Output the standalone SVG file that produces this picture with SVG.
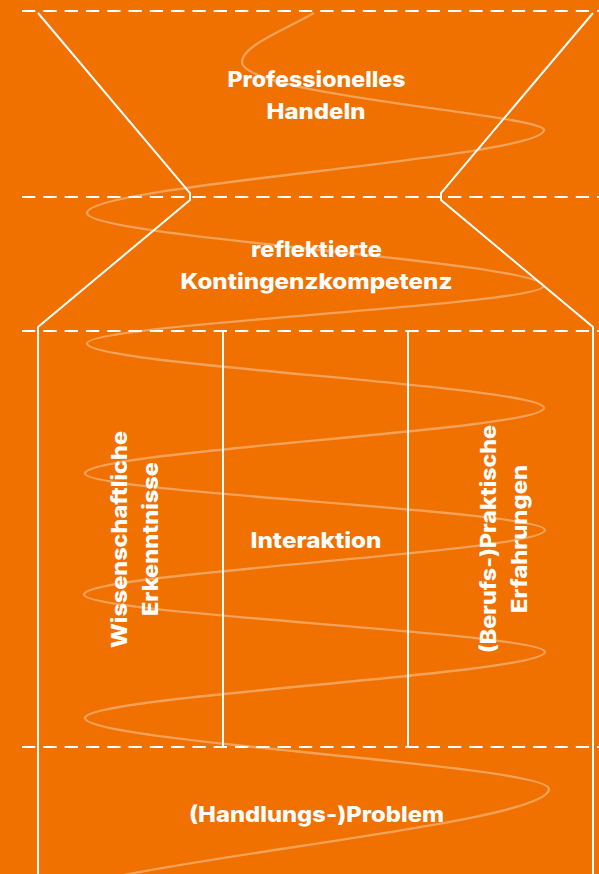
<svg xmlns="http://www.w3.org/2000/svg" width="599" height="874" viewBox="0 0 599 874">
<style>
.lbl{font-family:"Inter","Liberation Sans",sans-serif;font-weight:800;font-size:21.5px;fill:#ffffff;text-anchor:middle}
.dash{stroke:#ffffff;stroke-width:2;stroke-dasharray:13.3 8;fill:none}
.solid{stroke:#ffffff;stroke-width:2;fill:none;stroke-linejoin:miter}
.wave{stroke:#ffffff;stroke-opacity:0.35;stroke-width:2.4;fill:none}
</style>
<rect x="0" y="0" width="599" height="874" fill="#f07000"/>
<g id="wave">
<path class="wave" d="M314,13 C282,31 242,46 242,62 C242,95 544,115 544,130 C544,158 87,185 87,213 C87,237 543.5,262 543.5,286 C543.5,305 87,324 87,343.5 C87,365 544,386 544,408 C544,430 85,451 85,473.5 C85,492 545,511 545,530 C545,552 84,573 84,594.5 C84,614 545,633 545,652 C545,674 85,696 85,718 C85,742 549,765 549,789 C549,828 40,866 40,905"/>
</g>
<g id="connectors">
<g id="dashed-lines">
<line class="dash" x1="22" y1="11" x2="599" y2="11"/>
<line class="dash" x1="22" y1="197" x2="599" y2="197"/>
<line class="dash" x1="22" y1="331" x2="599" y2="331"/>
<line class="dash" x1="22" y1="747" x2="599" y2="747"/>
</g>
<polyline class="solid" points="38,13 190,193 190,200 38,327 38,874"/>
<polyline class="solid" points="593,13 441,193 441,200 593,327 593,874"/>
<line class="solid" x1="223" y1="331" x2="223" y2="747"/>
<line class="solid" x1="408" y1="331" x2="408" y2="747"/>
</g>
<g id="professionelles-handeln">
<text class="lbl" x="316.5" y="87" textLength="178" lengthAdjust="spacingAndGlyphs">Professionelles</text>
<text class="lbl" x="316" y="119" textLength="99" lengthAdjust="spacingAndGlyphs">Handeln</text>
</g>
<g id="kontingenzkompetenz">
<text class="lbl" x="316.5" y="257" textLength="131" lengthAdjust="spacingAndGlyphs">reflektierte</text>
<text class="lbl" x="316.5" y="289" textLength="272" lengthAdjust="spacingAndGlyphs">Kontingenzkompetenz</text>
</g>
<g id="wissenschaftliche-erkenntnisse">
<text class="lbl" transform="translate(126.5,539.5) rotate(-90)" x="0" y="0" textLength="217" lengthAdjust="spacingAndGlyphs">Wissenschaftliche</text>
<text class="lbl" transform="translate(157.5,539) rotate(-90)" x="0" y="0" textLength="154" lengthAdjust="spacingAndGlyphs">Erkenntnisse</text>
</g>
<g id="interaktion">
<text class="lbl" x="316" y="548" textLength="131" lengthAdjust="spacingAndGlyphs">Interaktion</text>
</g>
<g id="praktische-erfahrungen">
<text class="lbl" transform="translate(495.5,539) rotate(-90)" x="0" y="0" textLength="228" lengthAdjust="spacingAndGlyphs">(Berufs-)Praktische</text>
<text class="lbl" transform="translate(526.5,539) rotate(-90)" x="0" y="0" textLength="148" lengthAdjust="spacingAndGlyphs">Erfahrungen</text>
</g>
<g id="handlungsproblem">
<text class="lbl" x="316.5" y="822" textLength="255" lengthAdjust="spacingAndGlyphs">(Handlungs-)Problem</text>
</g>
</svg>
